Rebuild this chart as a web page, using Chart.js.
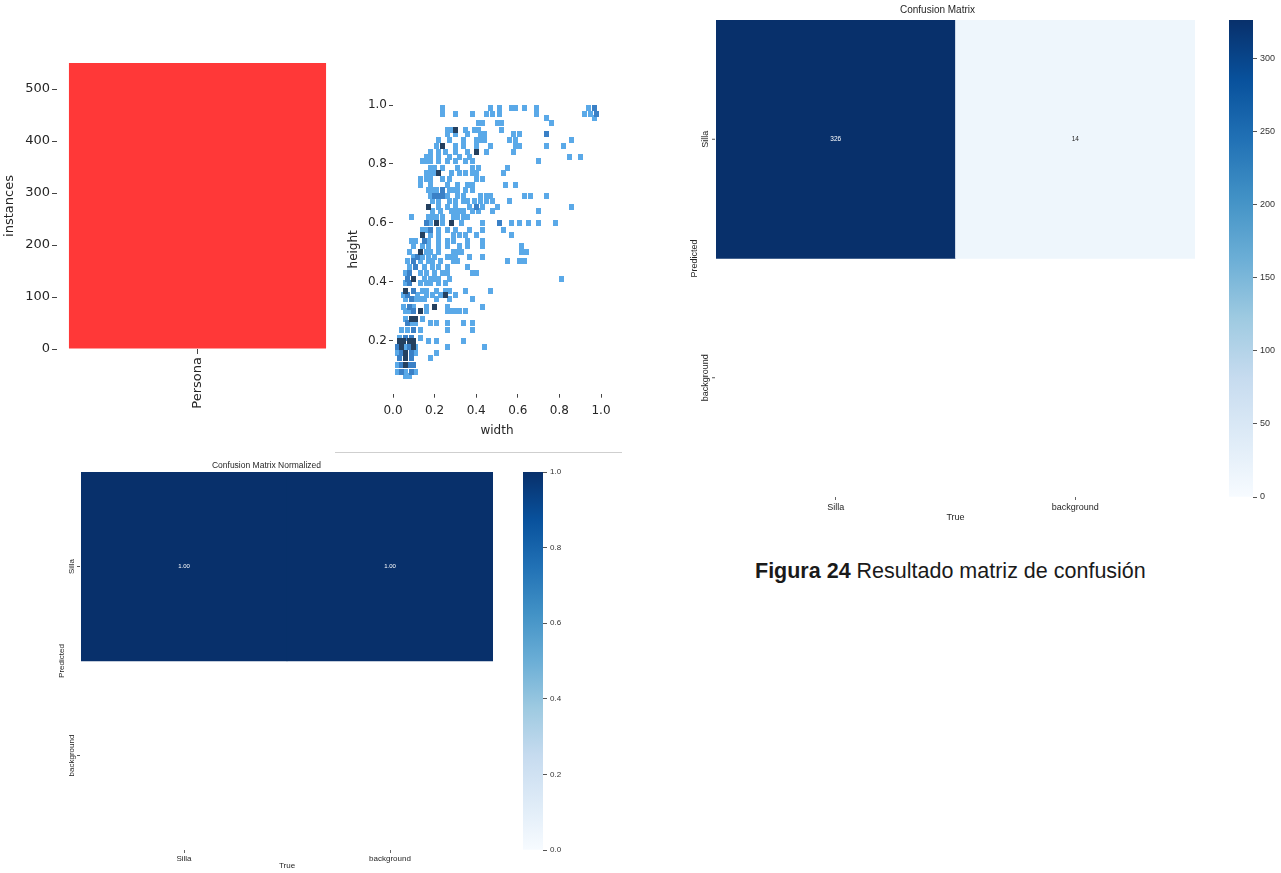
<!DOCTYPE html>
<html>
<head>
<meta charset="utf-8">
<script src="https://cdn.jsdelivr.net/npm/chart.js@4.4.0/dist/chart.umd.min.js"></script>
<style>
  html, body { margin: 0; padding: 0; background: #fff; width: 1281px; height: 873px; overflow: hidden; position: relative; }
  canvas { position: absolute; }
  #caption { position: absolute; left: 755px; top: 559px; font: 21.5px/24px "Liberation Sans", Arial, sans-serif; color: #1a1a1a; white-space: nowrap; }
  #rule { position: absolute; left: 335px; top: 452px; width: 287px; height: 1px; background: #cfcfcf; }
</style>
</head>
<body>
<canvas id="bars" width="345" height="400" style="left:0;top:40px"></canvas>
<canvas id="hist" width="280" height="350" style="left:340px;top:90px"></canvas>
<canvas id="cm" width="530" height="530" style="left:680px;top:0"></canvas>
<canvas id="cmBar" width="100" height="530" style="left:1215px;top:0"></canvas>
<canvas id="cmn" width="470" height="418" style="left:40px;top:455px"></canvas>
<canvas id="cmnBar" width="80" height="418" style="left:510px;top:455px"></canvas>
<div id="rule"></div>
<div id="caption"><b>Figura 24</b> Resultado matriz de confusión</div>

<script>
// ---- data ----
const barLabels = ['Persona'];
const barCounts = [550];

// width/height histogram cells, grouped by shade
const darkCells = [
  [0.30,0.915],[0.24,0.86],[0.40,0.84],[0.22,0.77],[0.17,0.655],[0.21,0.60],[0.28,0.60],
  [0.14,0.56],[0.13,0.50],[0.10,0.41],[0.06,0.37],[0.25,0.355],[0.20,0.315],[0.13,0.30],
  [0.09,0.275],[0.11,0.275],[0.03,0.20],[0.05,0.20],[0.08,0.20],[0.10,0.20],[0.04,0.18],
  [0.10,0.18],[0.06,0.157],[0.06,0.14],[0.06,0.118]
];
const midCells = [
  [0.97,0.99],[0.98,0.97],[0.74,0.90],[0.24,0.71],[0.24,0.69],[0.22,0.69],[0.20,0.69],
  [0.40,0.655],[0.51,0.60],[0.16,0.60],[0.18,0.575],[0.15,0.54],[0.12,0.485],[0.10,0.47],
  [0.11,0.45],[0.08,0.43],[0.07,0.41],[0.08,0.395],[0.10,0.37],[0.07,0.355],[0.09,0.34],
  [0.08,0.315],[0.10,0.30],[0.07,0.26],[0.10,0.235],[0.06,0.21],[0.09,0.21],[0.02,0.18],
  [0.08,0.18],[0.04,0.157],[0.09,0.157],[0.03,0.14],[0.09,0.14],[0.04,0.118],[0.08,0.118],
  [0.10,0.118],[0.04,0.095],[0.09,0.095]
];
const lightCells = [
  [0.24,0.99],[0.47,0.99],[0.51,0.99],[0.57,0.99],[0.59,0.99],[0.63,0.99],[0.69,0.99],[0.94,0.99],
  [0.24,0.97],[0.30,0.97],[0.38,0.97],[0.45,0.97],[0.48,0.97],[0.51,0.97],[0.69,0.97],[0.92,0.97],[0.95,0.97],
  [0.74,0.955],[0.97,0.955],
  [0.41,0.94],[0.43,0.94],[0.50,0.94],[0.52,0.94],[0.76,0.94],
  [0.26,0.915],[0.28,0.915],[0.35,0.915],[0.39,0.915],[0.41,0.915],[0.52,0.915],
  [0.26,0.90],[0.30,0.90],[0.36,0.90],[0.42,0.90],[0.44,0.90],[0.58,0.90],[0.61,0.90],
  [0.22,0.88],[0.27,0.88],[0.34,0.88],[0.40,0.88],[0.42,0.88],[0.44,0.88],[0.56,0.88],[0.59,0.88],[0.86,0.88],
  [0.21,0.86],[0.30,0.86],[0.34,0.86],[0.40,0.86],[0.47,0.86],[0.59,0.86],[0.61,0.86],[0.74,0.86],[0.82,0.86],
  [0.18,0.84],[0.22,0.84],[0.25,0.84],[0.30,0.84],[0.36,0.84],[0.45,0.84],[0.58,0.84],
  [0.16,0.825],[0.18,0.825],[0.22,0.825],[0.27,0.825],[0.32,0.825],[0.37,0.825],[0.85,0.825],[0.90,0.825],
  [0.14,0.81],[0.16,0.81],[0.18,0.81],[0.22,0.81],[0.26,0.81],[0.30,0.81],[0.35,0.81],[0.38,0.81],[0.70,0.81],
  [0.18,0.785],[0.20,0.785],[0.24,0.785],[0.31,0.785],[0.38,0.785],[0.41,0.785],[0.55,0.785],
  [0.16,0.77],[0.18,0.77],[0.20,0.77],[0.28,0.77],[0.32,0.77],[0.35,0.77],[0.38,0.77],[0.40,0.77],[0.53,0.77],
  [0.13,0.75],[0.16,0.75],[0.18,0.75],[0.24,0.75],[0.27,0.75],[0.40,0.75],[0.43,0.75],
  [0.13,0.73],[0.18,0.73],[0.26,0.73],[0.31,0.73],[0.36,0.73],[0.38,0.73],[0.54,0.73],[0.59,0.73],
  [0.17,0.71],[0.19,0.71],[0.21,0.71],[0.27,0.71],[0.29,0.71],[0.31,0.71],[0.35,0.71],[0.38,0.71],
  [0.18,0.69],[0.26,0.69],[0.31,0.69],[0.34,0.69],[0.42,0.69],[0.45,0.69],[0.47,0.69],[0.63,0.69],[0.66,0.69],[0.74,0.69],
  [0.19,0.675],[0.22,0.675],[0.27,0.675],[0.30,0.675],[0.34,0.675],[0.36,0.675],[0.39,0.675],[0.42,0.675],[0.45,0.675],[0.48,0.675],[0.56,0.675],
  [0.22,0.655],[0.26,0.655],[0.30,0.655],[0.37,0.655],[0.43,0.655],[0.50,0.655],[0.86,0.655],
  [0.19,0.64],[0.23,0.64],[0.28,0.64],[0.30,0.64],[0.32,0.64],[0.34,0.64],[0.38,0.64],[0.41,0.64],[0.48,0.64],[0.70,0.64],
  [0.09,0.62],[0.17,0.62],[0.19,0.62],[0.21,0.62],[0.24,0.62],[0.29,0.62],[0.31,0.62],[0.34,0.62],[0.36,0.62],
  [0.18,0.60],[0.24,0.60],[0.33,0.60],[0.43,0.60],[0.57,0.60],[0.61,0.60],[0.65,0.60],[0.70,0.60],[0.78,0.60],
  [0.14,0.575],[0.16,0.575],[0.22,0.575],[0.26,0.575],[0.30,0.575],[0.37,0.575],[0.43,0.575],[0.53,0.575],
  [0.18,0.56],[0.22,0.56],[0.29,0.56],[0.32,0.56],[0.35,0.56],[0.40,0.56],[0.57,0.56],
  [0.09,0.54],[0.11,0.54],[0.17,0.54],[0.22,0.54],[0.26,0.54],[0.29,0.54],[0.36,0.54],[0.43,0.54],
  [0.10,0.52],[0.14,0.52],[0.17,0.52],[0.22,0.52],[0.26,0.52],[0.32,0.52],[0.36,0.52],[0.43,0.52],[0.62,0.52],
  [0.08,0.50],[0.16,0.50],[0.18,0.50],[0.22,0.50],[0.29,0.50],[0.31,0.50],[0.33,0.50],[0.62,0.50],[0.64,0.50],
  [0.10,0.485],[0.14,0.485],[0.17,0.485],[0.20,0.485],[0.26,0.485],[0.28,0.485],[0.30,0.485],[0.37,0.485],[0.43,0.485],
  [0.07,0.47],[0.13,0.47],[0.17,0.47],[0.19,0.47],[0.23,0.47],[0.29,0.47],[0.31,0.47],[0.55,0.47],[0.61,0.47],[0.63,0.47],
  [0.08,0.45],[0.15,0.45],[0.19,0.45],[0.22,0.45],[0.26,0.45],[0.36,0.45],
  [0.06,0.43],[0.13,0.43],[0.16,0.43],[0.20,0.43],[0.24,0.43],[0.26,0.43],[0.38,0.43],[0.40,0.43],
  [0.15,0.41],[0.18,0.41],[0.20,0.41],[0.22,0.41],[0.27,0.41],[0.81,0.41],
  [0.06,0.395],[0.13,0.395],[0.16,0.395],[0.18,0.395],[0.22,0.395],[0.25,0.395],
  [0.14,0.37],[0.16,0.37],[0.21,0.37],[0.25,0.37],[0.27,0.37],[0.35,0.37],[0.47,0.37],
  [0.05,0.355],[0.12,0.355],[0.16,0.355],[0.19,0.355],[0.23,0.355],[0.30,0.355],
  [0.06,0.34],[0.11,0.34],[0.13,0.34],[0.15,0.34],[0.21,0.34],[0.27,0.34],[0.38,0.34],
  [0.05,0.315],[0.10,0.315],[0.16,0.315],[0.26,0.315],[0.43,0.315],
  [0.06,0.30],[0.08,0.30],[0.16,0.30],[0.26,0.30],[0.28,0.30],[0.30,0.30],[0.32,0.30],[0.35,0.30],
  [0.06,0.275],[0.14,0.275],
  [0.09,0.26],[0.11,0.26],[0.18,0.26],[0.21,0.26],[0.26,0.26],[0.34,0.26],[0.38,0.26],
  [0.04,0.235],[0.07,0.235],[0.13,0.235],[0.26,0.235],[0.38,0.235],
  [0.03,0.21],[0.13,0.21],
  [0.17,0.20],[0.21,0.20],[0.34,0.20],
  [0.06,0.18],[0.11,0.18],[0.26,0.18],[0.44,0.18],
  [0.02,0.157],[0.11,0.157],[0.21,0.157],
  [0.18,0.14],
  [0.02,0.118],
  [0.02,0.095],[0.06,0.095],[0.11,0.095],
  [0.06,0.08],[0.08,0.08]
];

// confusion matrices (rows = predicted, columns = true)
const classes = ['Silla', 'background'];
const countsSilla = [326, 14];
const countsBackground = [0, 0];
const normSilla = [1.00, 1.00];
const normBackground = [0, 0];

const countTicks = 50;
const normTicks = 0.2;

// ---- helpers ----
Chart.defaults.animation = false;
Chart.defaults.font.family = '"DejaVu Sans", sans-serif';
Chart.defaults.color = '#262626';
Chart.defaults.plugins.legend.display = false;
Chart.defaults.plugins.tooltip.enabled = false;

const BLUES = ['#f7fbff','#deebf7','#c6dbef','#9ecae1','#6baed6','#4292c6','#2171b5','#08519c','#08306b'];
function hexRgb(h) { return [1, 3, 5].map(i => parseInt(h.substr(i, 2), 16)); }
function blues(t) {
  t = Math.max(0, Math.min(1, t));
  const p = t * (BLUES.length - 1);
  const i = Math.min(Math.floor(p), BLUES.length - 2);
  const f = p - i;
  const a = hexRgb(BLUES[i]), b = hexRgb(BLUES[i + 1]);
  const c = a.map((v, k) => Math.round(v + (b[k] - v) * f));
  return `rgb(${c[0]},${c[1]},${c[2]})`;
}

function cellImage(color) {
  const c = document.createElement('canvas');
  c.width = 5; c.height = 6;
  const g = c.getContext('2d');
  g.fillStyle = color;
  g.fillRect(0, 0, 5, 6);
  return c;
}

const fixWidth = w => s => { s.width = w; };
const fixHeight = h => s => { s.height = h; };
const tickMarks = len => ({ display: true, offset: false, drawOnChartArea: false, drawTicks: true, tickLength: len, color: '#444', lineWidth: 1 });

// ---- bar chart ----
new Chart(document.getElementById('bars'), {
  type: 'bar',
  data: {
    labels: barLabels,
    datasets: [{ data: barCounts, backgroundColor: '#ff3838', categoryPercentage: 1, barPercentage: 0.915 }]
  },
  options: {
    responsive: false,
    layout: { padding: { left: 0, right: 7, top: 23, bottom: 0 } },
    scales: {
      x: {
        grid: tickMarks(5), border: { display: false },
        ticks: { minRotation: 90, maxRotation: 90, padding: 3, font: { size: 13 } },
        afterFit: fixHeight(91)
      },
      y: {
        min: 0, max: 550,
        grid: tickMarks(5), border: { display: false },
        ticks: { stepSize: 100, includeBounds: false, padding: 2, font: { size: 13 } },
        title: { display: true, text: 'instances', font: { size: 13 }, padding: { top: 2, bottom: 0 } },
        afterFit: fixWidth(57)
      }
    }
  }
});

// ---- width / height histogram ----
const toXY = cells => cells.map(([x, y]) => ({ x, y }));
new Chart(document.getElementById('hist'), {
  type: 'scatter',
  data: {
    datasets: [
      { data: toXY(darkCells), pointStyle: cellImage('#24405f'), clip: false },
      { data: toXY(midCells), pointStyle: cellImage('#3a80c6'), clip: false },
      { data: toXY(lightCells), pointStyle: cellImage('#5aa9e8'), clip: false }
    ]
  },
  options: {
    responsive: false,
    layout: { padding: { left: 0, right: 19, top: 15, bottom: 0 } },
    scales: {
      x: {
        type: 'linear', min: 0, max: 1,
        grid: tickMarks(4), border: { display: false },
        ticks: { stepSize: 0.2, padding: 6, font: { size: 12 }, callback: v => v.toFixed(1) },
        title: { display: true, text: 'width', font: { size: 12 }, padding: { top: 0, bottom: 2 } },
        afterFit: fixHeight(46.3)
      },
      y: {
        min: 0.02, max: 1.0,
        grid: tickMarks(4), border: { display: false },
        ticks: { stepSize: 0.2, includeBounds: false, padding: 2, font: { size: 12 }, callback: v => v.toFixed(1) },
        title: { display: true, text: 'height', font: { size: 12 }, padding: { top: 7, bottom: 0 } },
        afterFit: fixWidth(53)
      }
    }
  }
});

// ---- confusion matrices ----
const cellText = {
  id: 'cellText',
  afterDatasetsDraw(chart, args, opts) {
    const ctx = chart.ctx;
    chart.data.datasets.forEach((ds, di) => {
      const meta = chart.getDatasetMeta(di);
      meta.data.forEach((bar, i) => {
        const v = ds.values[i];
        if (!v) return;
        ctx.save();
        ctx.fillStyle = v / opts.vmax > 0.5 ? '#ffffff' : '#262626';
        ctx.font = opts.cellFont + 'px "Liberation Sans", Arial, sans-serif';
        ctx.textAlign = 'center';
        ctx.textBaseline = 'middle';
        ctx.fillText(v.toFixed(opts.decimals), bar.x, (bar.y + bar.base) / 2);
        ctx.restore();
      });
      // rotated row label + tick mark on the left of each row
      const first = meta.data[0];
      const cy = (first.y + first.base) / 2;
      const left = chart.chartArea.left;
      ctx.save();
      ctx.strokeStyle = '#555';
      ctx.beginPath();
      ctx.moveTo(left - 4, cy); ctx.lineTo(left - 1, cy);
      ctx.stroke();
      ctx.translate(left - opts.rowGap, cy);
      ctx.rotate(-Math.PI / 2);
      ctx.fillStyle = '#262626';
      ctx.font = opts.labelFont + 'px "Liberation Sans", Arial, sans-serif';
      ctx.textAlign = 'center';
      ctx.textBaseline = 'middle';
      ctx.fillText(ds.label, 0, 0);
      ctx.restore();
    });
  }
};

function matrixChart(id, title, rowSilla, rowBackground, g) {
  const vmax = Math.max(...rowSilla, ...rowBackground);
  const colour = vals => vals.map(v => (v > 0 ? blues(v / vmax) : 'rgba(0,0,0,0)'));
  const font = { family: '"Liberation Sans", Arial, sans-serif', size: g.font };
  return new Chart(document.getElementById(id), {
    type: 'bar',
    data: {
      labels: classes,
      datasets: [
        { label: 'background', values: rowBackground, data: rowBackground.map(() => 1), backgroundColor: colour(rowBackground), categoryPercentage: 1, barPercentage: 1 },
        { label: 'Silla', values: rowSilla, data: rowSilla.map(() => 1), backgroundColor: colour(rowSilla), categoryPercentage: 1, barPercentage: 1 }
      ]
    },
    plugins: [cellText],
    options: {
      responsive: false,
      layout: { padding: { left: 0, right: g.right, top: 0, bottom: 0 } },
      plugins: {
        title: { display: true, text: title, color: '#262626', font: { family: font.family, size: g.titleSize, weight: 'normal' }, padding: g.titlePad },
        cellText: { vmax, decimals: g.decimals, cellFont: g.cellFont, labelFont: g.font, rowGap: g.rowGap }
      },
      scales: {
        x: {
          stacked: true,
          grid: { display: true, offset: false, drawOnChartArea: false, tickLength: 3, color: '#666' }, border: { display: false },
          ticks: { padding: g.xPad, font },
          title: { display: true, text: 'True', font, padding: { top: 0, bottom: g.truePad } },
          afterFit: fixHeight(g.xHeight)
        },
        y: {
          stacked: true, min: 0, max: 2,
          grid: { display: false }, border: { display: false },
          ticks: { display: false },
          title: { display: true, text: 'Predicted', font, padding: { top: g.predPad, bottom: 0 } },
          afterFit: fixWidth(g.yWidth)
        }
      }
    }
  });
}

function colorBar(id, vmax, step, g) {
  return new Chart(document.getElementById(id), {
    type: 'bar',
    data: {
      labels: [''],
      datasets: [{
        data: [[0, vmax]],
        categoryPercentage: 1, barPercentage: 1,
        backgroundColor(ctx) {
          const chart = ctx.chart;
          if (!chart.chartArea) return null;
          const y = chart.scales.y;
          const grad = chart.ctx.createLinearGradient(0, y.getPixelForValue(0), 0, y.getPixelForValue(vmax));
          BLUES.forEach((c, i) => grad.addColorStop(i / (BLUES.length - 1), c));
          return grad;
        }
      }]
    },
    options: {
      responsive: false,
      layout: { padding: { left: g.left, right: 0, top: g.top, bottom: g.bottom } },
      scales: {
        x: { display: false },
        y: {
          position: 'right', min: 0, max: vmax,
          grid: { display: true, drawOnChartArea: false, tickLength: 4, color: '#555' }, border: { display: false },
          ticks: {
            stepSize: step, includeBounds: false, padding: 3, color: '#333',
            font: { family: '"Liberation Sans", Arial, sans-serif', size: g.font },
            callback: v => (step < 1 ? v.toFixed(1) : v)
          },
          afterFit: fixWidth(g.width)
        }
      }
    }
  });
}

matrixChart('cm', 'Confusion Matrix', countsSilla, countsBackground, {
  font: 9, titleSize: 10, titlePad: { top: 4, bottom: 4 }, right: 15,
  xHeight: 33, xPad: 2, truePad: 6.6, yWidth: 36, predPad: 9.2,
  decimals: 0, cellFont: 6.5, rowGap: 10
});
colorBar('cmBar', Math.max(...countsSilla, ...countsBackground), countTicks, { left: 14, top: 20, bottom: 33, width: 62, font: 9 });

matrixChart('cmn', 'Confusion Matrix Normalized', normSilla, normBackground, {
  font: 8, titleSize: 8.5, titlePad: { top: 5.9, bottom: 0.9 }, right: 17,
  xHeight: 23, xPad: 1, truePad: 2.2, yWidth: 41, predPad: 17.2,
  decimals: 2, cellFont: 6, rowGap: 9
});
colorBar('cmnBar', Math.max(...normSilla, ...normBackground), normTicks, { left: 13, top: 17, bottom: 23, width: 47, font: 8 });
</script>
</body>
</html>
